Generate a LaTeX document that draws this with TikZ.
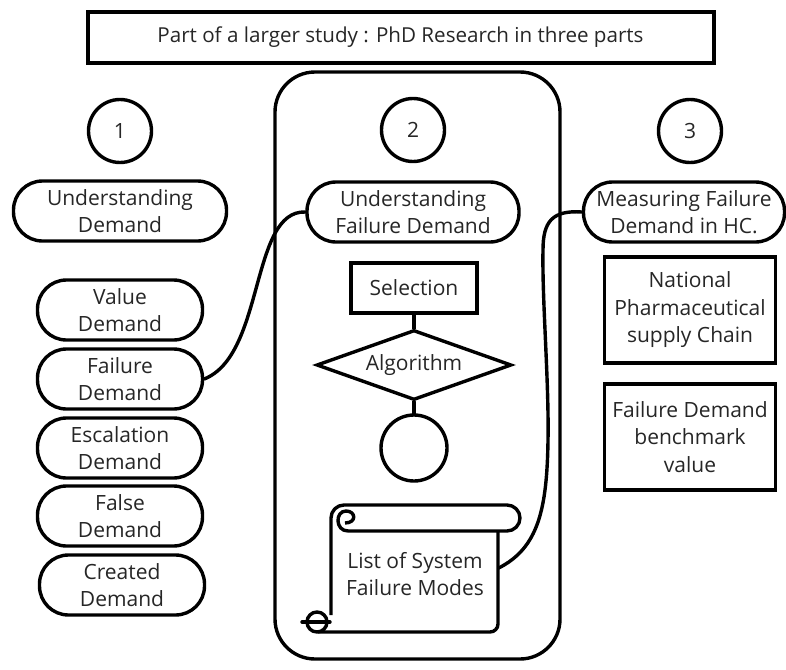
\documentclass[tikz,border=0pt]{standalone}
\usepackage{fontspec}
\setmainfont{Open Sans}
\usetikzlibrary{shapes.geometric,calc}
\begin{document}
\begin{tikzpicture}[x=1pt,y=-1pt,
  every node/.style={font=\fontsize{21}{27.5}\selectfont, align=center, inner sep=0pt, text=black!85},
  ln/.style={line width=3.4pt, draw=black},
  pill/.style={ln, rounded corners=29pt, minimum height=60pt},
  sidepill/.style={pill, minimum width=165pt},
  num/.style={ln, circle, minimum size=63pt},
  plainbox/.style={ln, rectangle},
  link/.style={line width=3.4pt, line cap=round}]
\useasboundingbox (0,0) rectangle (786,669);

% heading
\node[plainbox, line width=4pt, minimum width=626pt, minimum height=50pt,
      font=\fontsize{20.6}{24}\selectfont] (title) at (400.5,37.5)
  {Part of a larger study : PhD Research in three parts};

% frame around part two
\node[ln, rounded corners=40pt, minimum width=285pt, minimum height=587pt] (frame) at (417.5,365.5) {};

% part numbers
\node[num] (n1) at (120,131) {1};
\node[num] (n2) at (413,130) {2};
\node[num] (n3) at (690,131) {3};

% part headings
\node[pill, minimum width=213pt] (ud) at (120,211) {Understanding\\Demand};
\node[pill, minimum width=212pt] (ufd) at (413,212) {Understanding\\Failure Demand};
\node[pill, minimum width=201pt] (mfd) at (684,212) {Measuring Failure\\Demand in HC.};

% kinds of demand
\node[sidepill] (vd) at (120,310) {Value\\Demand};
\node[sidepill] (fd) at (120,379) {Failure\\Demand};
\node[sidepill] (ed) at (120,448) {Escalation\\Demand};
\node[sidepill] (fsd) at (120,516) {False\\Demand};
\node[sidepill] (cd) at (122,585) {Created\\Demand};

% part two flow
\node[plainbox, minimum width=126pt, minimum height=50pt] (sel) at (414,288) {Selection};
\node[ln, diamond, shape aspect=2.8, minimum width=195pt, minimum height=70pt] (alg) at (414,365) {Algorithm};
\node[num, minimum size=66pt] (endc) at (414,448) {};
\draw[link] (sel) -- (alg);
\draw[link] (alg) -- (endc);

% scroll
\draw[ln, rounded corners=13pt, line join=round] (331,615) -- (331,505) -- (520,505) -- (520,531) -- (348,531);
\draw[ln, line join=round] (348,531) .. controls (335,531) and (335,511) .. (346,511)
  .. controls (356,511) and (357,523) .. (345,523);
\draw[ln, rounded corners=8pt] (498,531) -- (498,632) -- (318,632);
\draw[ln] (317,622) circle[radius=10];
\draw[ln, line cap=round] (302,622) -- (330,622);
\node[minimum width=167pt, minimum height=86pt] (scroll) at (415,574) {List of System\\Failure Modes};

% part three boxes
\node[plainbox, minimum width=171pt, minimum height=106pt] (nat) at (690,310) {National\\Pharmaceutical\\supply Chain};
\node[plainbox, minimum width=171pt, minimum height=106pt] (bench) at (690,437) {Failure Demand\\benchmark\\value};

% links between the parts
\draw[link] (fd.east) .. controls (265,355) and (250,210) .. (ufd.west);
\coordinate (scrollout) at ($(scroll.east)+(0,-6)$);
\draw[link] (scrollout) .. controls (538,548) and (547,510) .. (548,440)
  .. controls (549,380) and (542,300) .. (543,250)
  .. controls (543,222) and (552,210) .. (mfd.west);
\end{tikzpicture}
\end{document}
